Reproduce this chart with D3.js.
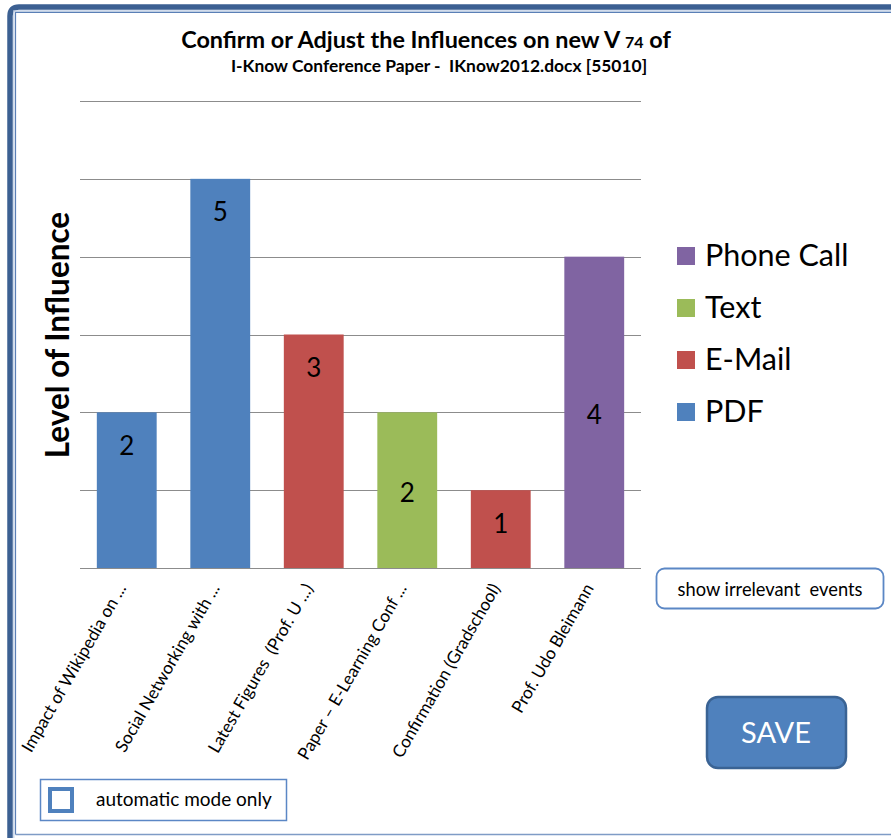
<!DOCTYPE html>
<html>
<head>
<meta charset="utf-8">
<script src="https://cdn.jsdelivr.net/npm/d3@7"></script>
<style>
  html, body { margin: 0; padding: 0; background: #ffffff; }
  svg { display: block; }
  text { font-family: Lato, "Open Sans", sans-serif; white-space: pre; }
</style>
</head>
<body>
<svg id="chart" width="891" height="838"></svg>
<script>
// Influence events, their source type and level
const categories = [
  "Impact of Wikipedia on ...",
  "Social Networking with ...",
  "Latest Figures  (Prof. U ...)",
  "Paper – E-Learning Conf ...",
  "Confirmation (Gradschool)",
  "Prof. Udo Bleimann"
];
const influence = [2, 5, 3, 2, 1, 4];
const sourceType = ["PDF", "PDF", "E-Mail", "Text", "E-Mail", "Phone Call"];

// Legend entries, top to bottom
const legendTypes = ["Phone Call", "Text", "E-Mail", "PDF"];
const typeColors = ["#8064a2", "#9bbb59", "#c0504d", "#4f81bd"];
const gridLevels = [0, 1, 2, 3, 4, 5, 6];

const svg = d3.select("#chart");
const color = d3.scaleOrdinal().domain(legendTypes).range(typeColors);

// Window frame: heavy band with rounded top-left corner, plus inner rules
svg.append("path")
  .attr("d", "M10,838 L10,16 Q10,7 19,7 L891,7")
  .attr("fill", "none").attr("stroke", "#3c6092").attr("stroke-width", 5.5);
svg.append("path")
  .attr("d", "M13.8,838 L13.8,10.8 L891,10.8")
  .attr("fill", "none").attr("stroke", "#c3d1e6").attr("stroke-width", 1.2);
svg.append("path")
  .attr("d", "M15.5,834.5 L15.5,12.3 L891,12.3")
  .attr("fill", "none").attr("stroke", "#5a7fb6").attr("stroke-width", 1.2);
svg.append("line")
  .attr("x1", 15.5).attr("x2", 891).attr("y1", 834.5).attr("y2", 834.5)
  .attr("stroke", "#7f9cc6").attr("stroke-width", 1.4);

// Title
const title = svg.append("text")
  .attr("x", 426).attr("y", 48)
  .attr("text-anchor", "middle")
  .attr("font-weight", "bold").attr("font-size", 23.4).attr("fill", "#000");
title.append("tspan").text("Confirm or Adjust the Influences on new V ");
title.append("tspan").attr("font-size", 16).text("74");
title.append("tspan").text(" of");

svg.append("text")
  .attr("x", 439).attr("y", 72)
  .attr("text-anchor", "middle")
  .attr("font-weight", "bold").attr("font-size", 17.4).attr("fill", "#000")
  .text("I-Know Conference Paper -  IKnow2012.docx [55010]");

// Scales
const x = d3.scaleBand().domain(categories).range([80, 641]).paddingInner(0.36).paddingOuter(0.18);
const y = d3.scaleLinear().domain([0, 6]).range([568, 101]);

// Gridlines
svg.append("g").selectAll("line")
  .data(gridLevels)
  .join("line")
  .attr("x1", 80).attr("x2", 641)
  .attr("y1", d => Math.round(y(d)) + 0.5).attr("y2", d => Math.round(y(d)) + 0.5)
  .attr("stroke", "#8c8c8c").attr("stroke-width", 1);

// Bars
svg.append("g").selectAll("rect")
  .data(categories)
  .join("rect")
  .attr("x", d => x(d))
  .attr("width", x.bandwidth())
  .attr("y", (d, i) => y(influence[i]))
  .attr("height", (d, i) => y(0) - y(influence[i]))
  .attr("fill", (d, i) => color(sourceType[i]));

// Value labels: inside end for documents and mail, centred for text and calls
svg.append("g").selectAll("text")
  .data(categories)
  .join("text")
  .attr("x", d => x(d) + x.bandwidth() / 2)
  .attr("y", (d, i) => {
    const t = sourceType[i];
    if (t === "PDF" || t === "E-Mail") return y(influence[i]) + 33;
    return (y(influence[i]) + y(0)) / 2 + 2;
  })
  .attr("dy", "0.36em")
  .attr("text-anchor", "middle")
  .attr("font-size", 26).attr("fill", "#000")
  .text((d, i) => influence[i]);

// Category axis labels
const xAxis = d3.axisBottom(x).tickSize(0).tickPadding(0);
const gx = svg.append("g").attr("transform", "translate(0,568)").call(xAxis);
gx.select(".domain").remove();
gx.selectAll(".tick text")
  .attr("font-family", "Lato, 'Open Sans', sans-serif")
  .attr("font-size", 17.2).attr("fill", "#000")
  .attr("text-anchor", "end")
  .attr("dy", 0).attr("y", 0)
  .attr("transform", "translate(0,20) rotate(-60)");

// Y axis title
svg.append("text")
  .attr("transform", "translate(69,335) rotate(-90)")
  .attr("text-anchor", "middle")
  .attr("font-weight", "bold").attr("font-size", 31.5).attr("fill", "#000")
  .text("Level of Influence");

// Legend
const lg = svg.append("g").selectAll("g")
  .data(legendTypes)
  .join("g")
  .attr("transform", (d, i) => `translate(677,${247 + i * 52})`);
lg.append("rect").attr("width", 18).attr("height", 18).attr("fill", d => color(d));
lg.append("text").attr("x", 28).attr("y", 19)
  .attr("font-size", 30.5).attr("fill", "#000").text(d => d);

// "show irrelevant events" button
svg.append("rect")
  .attr("x", 656.5).attr("y", 568.5).attr("width", 227).attr("height", 40)
  .attr("rx", 8).attr("fill", "#fff").attr("stroke", "#5b87c5").attr("stroke-width", 1.8);
svg.append("text")
  .attr("x", 770).attr("y", 596).attr("text-anchor", "middle")
  .attr("font-size", 18.3).attr("fill", "#000").text("show irrelevant  events");

// SAVE button
svg.append("rect")
  .attr("x", 707).attr("y", 697).attr("width", 139).attr("height", 71)
  .attr("rx", 11).attr("fill", "#4f81bd").attr("stroke", "#3a6394").attr("stroke-width", 2.5);
svg.append("text")
  .attr("x", 776).attr("y", 743).attr("text-anchor", "middle")
  .attr("font-size", 29).attr("fill", "#fff").text("SAVE");

// "automatic mode only" checkbox
svg.append("rect")
  .attr("x", 40.5).attr("y", 779.5).attr("width", 246).attr("height", 41)
  .attr("fill", "#fff").attr("stroke", "#5b87c5").attr("stroke-width", 1.5);
svg.append("rect")
  .attr("x", 50).attr("y", 789).attr("width", 22).attr("height", 22)
  .attr("fill", "#fff").attr("stroke", "#4f81bd").attr("stroke-width", 4);
svg.append("text")
  .attr("x", 96).attr("y", 806)
  .attr("font-size", 19).attr("fill", "#000").text("automatic mode only");
</script>
</body>
</html>
